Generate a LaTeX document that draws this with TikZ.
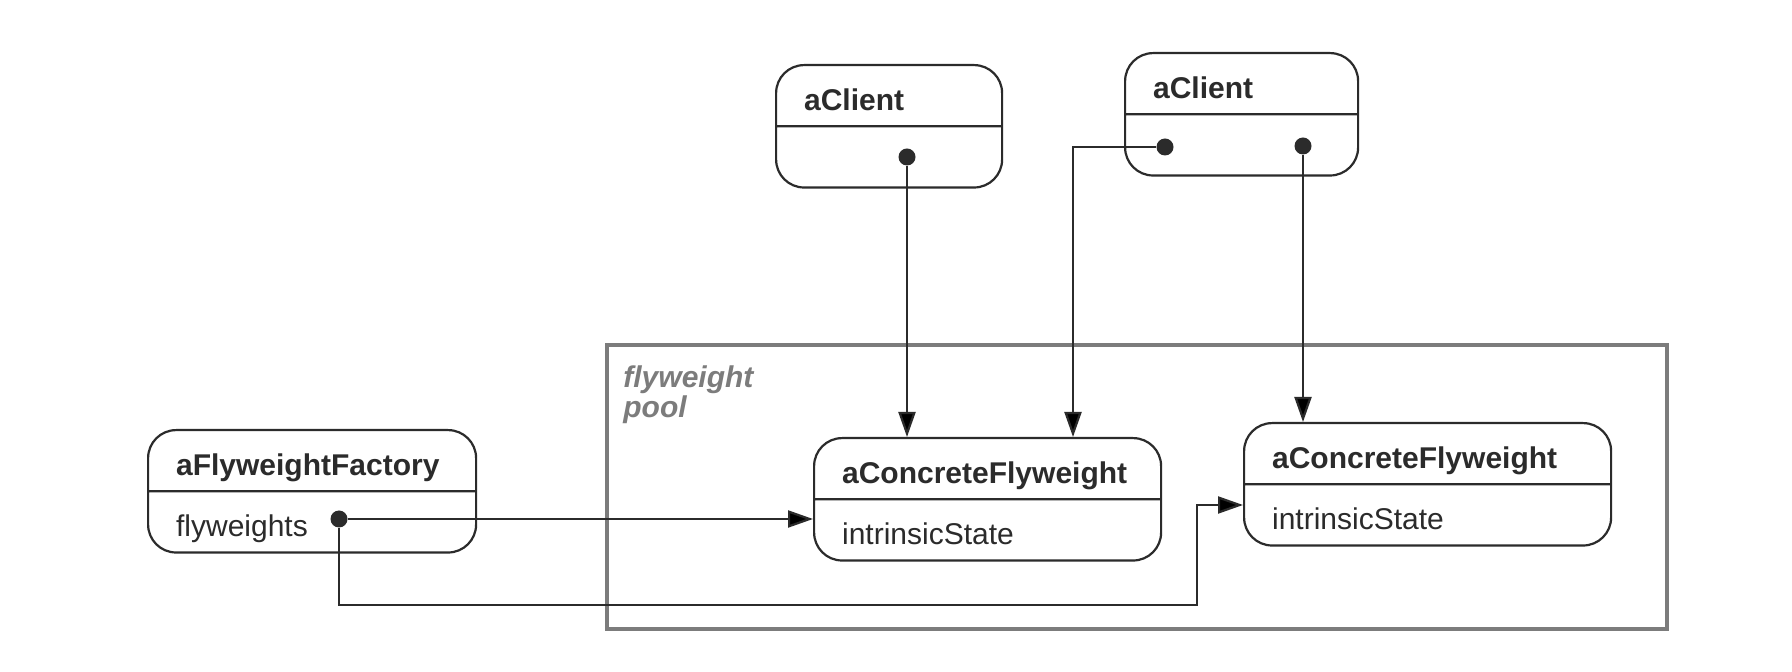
\documentclass[tikz,border=0pt]{standalone}
\usepackage{fontspec}
\setmainfont{Liberation Sans}
\usetikzlibrary{shapes.multipart,arrows.meta}
\definecolor{ink}{HTML}{2B2B2B}
\definecolor{poolgray}{HTML}{7C7C7C}
\newcommand{\objstrut}{\rule[-4.5pt]{0pt}{23.5pt}}

\tikzset{
  obj/.style={rectangle split, rectangle split parts=2, draw=ink, line width=1.1pt,
    rounded corners=14pt, inner xsep=14pt, inner ysep=3pt, text width=#1, align=left,
    font=\fontsize{15}{18}\selectfont, text=ink, anchor=north west, fill=white},
  dot/.style={circle, fill=ink, inner sep=0pt, minimum size=8.5pt},
  conn/.style={draw=ink, line width=1.1pt, -{Triangle[length=12.5pt,width=8.5pt]}},
  pool/.style={draw=poolgray, line width=2.2pt, anchor=north west, inner sep=0pt,
    minimum width=530pt, minimum height=142pt},
  poolname/.style={text=poolgray, font=\fontsize{15}{15}\selectfont\bfseries\itshape,
    align=left, anchor=north west, inner sep=0pt},
}

\begin{document}
\begin{tikzpicture}[x=0.5pt,y=-0.5pt]
  \useasboundingbox[fill=white] (0,0) rectangle (1792,672);

  % the pool
  \node[pool] (pool) at (605,343) {};
  \node[poolname] (poolname) at (623,365) {flyweight\\pool};

  % objects
  \node[obj=136pt] (fac) at (147,429) {\objstrut\textbf{aFlyweightFactory}\nodepart{two}\objstrut flyweights};
  \node[obj=145.5pt] (cf1) at (813,437) {\objstrut\textbf{aConcreteFlyweight}\nodepart{two}\objstrut intrinsicState};
  \node[obj=155.5pt] (cf2) at (1243,422) {\objstrut\textbf{aConcreteFlyweight}\nodepart{two}\objstrut intrinsicState};
  \node[obj=85pt] (cl1) at (775,64) {\objstrut\textbf{aClient}\nodepart{two}\objstrut};
  \node[obj=88.5pt] (cl2) at (1124,52) {\objstrut\textbf{aClient}\nodepart{two}\objstrut};

  % references
  \node[dot] (cl1dot) at (907,157) {};
  \node[dot] (cl2left) at (1165,147) {};
  \node[dot] (cl2right) at (1303,146) {};
  \node[dot] (facdot) at (339,519) {};
  \coordinate (cl2bend) at (1073,147);
  \coordinate (facbend) at (1197,605);
  \coordinate (facrise) at (1197,505);

  \draw[conn] (cl1dot) -- (cl1dot |- cf1.north);
  \draw[conn] (cl2left) -- (cl2bend) -- (cl2bend |- cf1.north);
  \draw[conn] (cl2right) -- (cl2right |- cf2.north);
  \draw[conn] (facdot) -- (facdot -| cf1.west);
  \draw[conn] (facdot) |- (facbend) -- (facrise) -- (facrise -| cf2.west);
\end{tikzpicture}
\end{document}
